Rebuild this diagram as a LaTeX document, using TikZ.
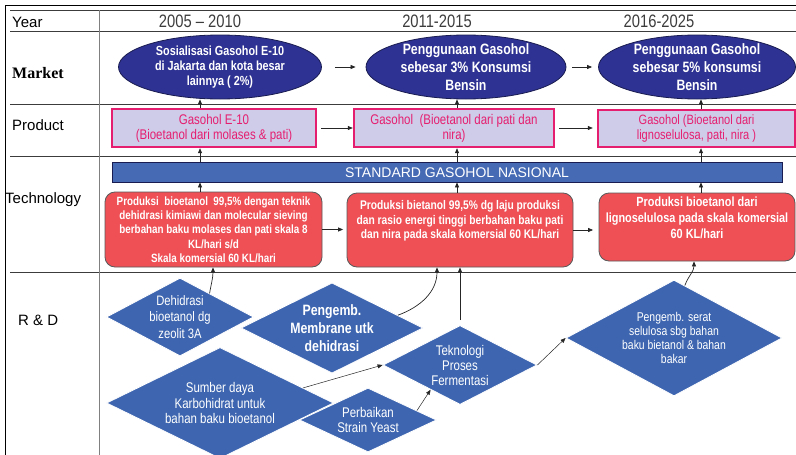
\documentclass[tikz,border=0pt]{standalone}
\usepackage{fontspec}
\setmainfont{Liberation Sans}
\newfontfamily\narrow[FakeStretch=0.82]{Liberation Sans}
\newfontfamily\serifbf{Liberation Serif}
\usepackage{tikz}
\usetikzlibrary{shapes.geometric,arrows.meta,positioning,calc}
\usepackage{xcolor}
\definecolor{mktNavy}{RGB}{46,50,146}
\definecolor{navyLine}{RGB}{25,28,80}
\definecolor{prodPink}{RGB}{230,30,112}
\definecolor{prodLav}{RGB}{206,204,232}
\definecolor{stdBlue}{RGB}{70,106,180}
\definecolor{techRed}{RGB}{238,80,86}
\definecolor{rdBlue}{RGB}{62,102,176}
\definecolor{gridGray}{RGB}{60,60,60}

\begin{document}
\begin{tikzpicture}[x=1pt, y=-1pt,
  rowline/.style={draw=gridGray, line width=0.8pt},
  lbl/.style={anchor=west, inner sep=0pt, font=\fontsize{15}{15}\selectfont},
  yr/.style={inner sep=0pt, text=gridGray, font=\narrow\fontsize{18}{18}\selectfont},
  mkt/.style={ellipse, draw=navyLine, line width=0.8pt, fill=mktNavy,
              text=white, align=center, inner sep=-4pt,
              minimum height=64pt, font=\narrow\bfseries\fontsize{15}{18}\selectfont},
  prod/.style={rectangle, draw=prodPink, line width=2.4pt, fill=prodLav,
               text=prodPink, align=center, minimum height=38pt,
               font=\narrow\fontsize{14}{15}\selectfont},
  tech/.style={rectangle, rounded corners=10pt, draw=black!65, line width=0.8pt,
               fill=techRed, text=white, align=center,
               font=\narrow\bfseries\fontsize{12}{14.3}\selectfont},
  rd/.style={diamond, draw=white, line width=0.8pt, fill=rdBlue, text=white,
             align=center, inner sep=-10pt,
             font=\narrow\fontsize{14}{15.5}\selectfont},
  arr/.style={-{Triangle[length=5pt,width=4pt]}, line width=0.7pt, black!85}
]
\useasboundingbox (0,0) rectangle (796,455);

% table frame
\draw[line width=0.8pt] (796,5) -- (5,5) -- (5,455);
\draw[rowline] (10,10) -- (796,10);
\foreach \y in {31,104,156,272}
  \draw[rowline] (10,\y) -- (796,\y);
\draw[gray, line width=0.8pt] (99,10) -- (99,455);

% row and column headings
\node[lbl] (hYear) at (12,22) {Year};
\node[lbl, font=\serifbf\bfseries\fontsize{16}{16}\selectfont] (hMarket) at (12,73) {Market};
\node[lbl] (hProduct) at (12,125) {Product};
\node[lbl] (hTech) at (5,200) {Technology};
\node[lbl] (hRD) at (18,320) {R \& D};
\node[yr] (y1) at (200,21) {2005 \textendash\ 2010};
\node[yr] (y2) at (437,21) {2011-2015};
\node[yr] (y3) at (659,21) {2016-2025};

\coordinate (c1) at (200,0);
\coordinate (c2) at (457,0);
\coordinate (c3) at (701,0);

% market
\node[mkt, minimum width=203pt, font=\narrow\bfseries\fontsize{13.2}{14.7}\selectfont] (m1) at (220,67)
  {Sosialisasi Gasohol E-10\\di Jakarta dan\ kota besar\\lainnya ( 2\%)};
\node[mkt, minimum width=200pt] (m2) at (466,67)
  {Penggunaan Gasohol\\sebesar 3\% Konsumsi\\Bensin};
\node[mkt, minimum width=197pt] (m3) at (697,67)
  {Penggunaan Gasohol\\sebesar 5\% konsumsi\\Bensin};

% product
\node[prod, minimum width=204pt] (p1) at (214,128)
  {Gasohol E-10\\(Bioetanol dari molases \& pati)};
\node[prod, minimum width=200pt] (p2) at (454,128)
  {Gasohol\ \ (Bioetanol dari pati dan\\nira)};
\node[prod, minimum width=197pt, minimum height=37pt, font=\narrow\fontsize{13.5}{15}\selectfont] (p3) at (696.5,128.5)
  {Gasohol (Bioetanol dari\\lignoselulosa, pati, nira )};

% technology
\node[draw=navyLine, line width=0.8pt, fill=stdBlue, minimum width=670pt,
      minimum height=20pt, inner sep=0pt] (std) at (447,172) {};
\node[text=white, inner sep=0pt, font=\fontsize{14}{14}\selectfont] (stdText) at (457,172.5)
  {STANDARD GASOHOL NASIONAL};
\node[tech, minimum width=217pt, minimum height=75pt, inner ysep=1pt] (t1) at (213.5,229.5)
  {Produksi\ \ bioetanol\ \ 99,5\% dengan teknik\\dehidrasi kimiawi dan molecular sieving\\berbahan baku molases dan pati skala 8\\KL/hari s/d\\Skala komersial 60 KL/hari};
\node[tech, minimum width=226pt, minimum height=74pt, font=\narrow\bfseries\fontsize{12.5}{14.7}\selectfont] (t2) at (460,230)
  {Produksi bietanol 99,5\% dg laju produksi\\dan rasio energi tinggi berbahan baku pati\\dan nira pada skala komersial 60 KL/hari\\[6pt]};
\node[tech, minimum width=196pt, minimum height=68pt, font=\narrow\bfseries\fontsize{13.3}{16}\selectfont] (t3) at (697,227)
  {Produksi bioetanol dari\\lignoselulosa pada skala komersial\\60 KL/hari\\[2pt]};

% research and development
\node[rd, minimum width=147pt, minimum height=78pt, font=\narrow\fontsize{13.7}{16.5}\selectfont] (d1) at (180,317)
  {Dehidrasi\\bioetanol dg\\zeolit 3A};
\node[rd, minimum width=182pt, minimum height=89pt, font=\narrow\bfseries\fontsize{15}{18}\selectfont] (d2) at (332,328)
  {Pengemb.\\Membrane utk\\dehidrasi};
\node[rd, minimum width=227pt, minimum height=94pt] (d3) at (220,403)
  {Sumber daya\\Karbohidrat untuk\\bahan baku bioetanol};
\node[rd, minimum width=137pt, minimum height=64pt, font=\narrow\fontsize{14}{15}\selectfont] (d4) at (368,420)
  {Perbaikan\\Strain Yeast};
\node[rd, minimum width=154pt, minimum height=79pt, font=\narrow\fontsize{14}{15}\selectfont] (d5) at (460,365)
  {Teknologi\\Proses\\Fermentasi};
\node[rd, minimum width=216pt, minimum height=90pt, font=\narrow\fontsize{12.7}{14.3}\selectfont] (d6) at (674,338)
  {Pengemb. serat\\selulosa sbg bahan\\baku bietanol \& bahan\\bakar};

% flow along each year
\draw[arr, shorten <=13pt, shorten >=10pt] (m1) -- (m2);
\draw[arr, shorten <=6pt, shorten >=6pt] (m2) -- (m3);
\draw[arr, shorten <=4pt] (p1) -- (p2);
\draw[arr, shorten <=4pt, shorten >=4pt] (p2.east) -- (p2.east -| p3.west);
\draw[arr, shorten >=3.5pt] (t1.east) -- (t1.east -| t2.west);
\draw[arr, shorten >=5.5pt] (t2.east) -- (t2.east -| t3.west);

% upward links between the rows
\foreach \c/\t/\p/\m in {c1/t1/p1/m1, c2/t2/p2/m2, c3/t3/p3/m3}{
  \draw[arr] (\t.north -| \c) -- (std.south -| \c);
  \draw[arr] (std.north -| \c) -- (\p.south -| \c);
  \draw[arr] (\p.north -| \c) -- (\m.south -| \c);
}

% R&D links
\draw[arr] ($(d1.north)!0.4!(d1.east)$) to[out=80, in=-90] (t1.south -| 213,0);
\draw[arr] ($(d2.north)!0.72!(d2.east)$) to[out=20, in=-90] (t2.south -| 437,0);
\draw[arr, shorten <=5pt] (d5.north) -- (d5.north |- t2.south);
\draw[arr] ($(d6.north)!0.1!(d6.east)$) to[out=70, in=-90] (t3.south -| 694,0);
\draw[arr, line width=0.5pt] ($(d3.north)!0.73!(d3.east)$) -- (d5.west);
\draw[arr, line width=0.5pt] ($(d4.north)!0.71!(d4.east)$) -- ($(d5.west)!0.62!(d5.south)$);
\draw[arr, line width=0.5pt] (d5.east) -- (d6.west);
\end{tikzpicture}
\end{document}
